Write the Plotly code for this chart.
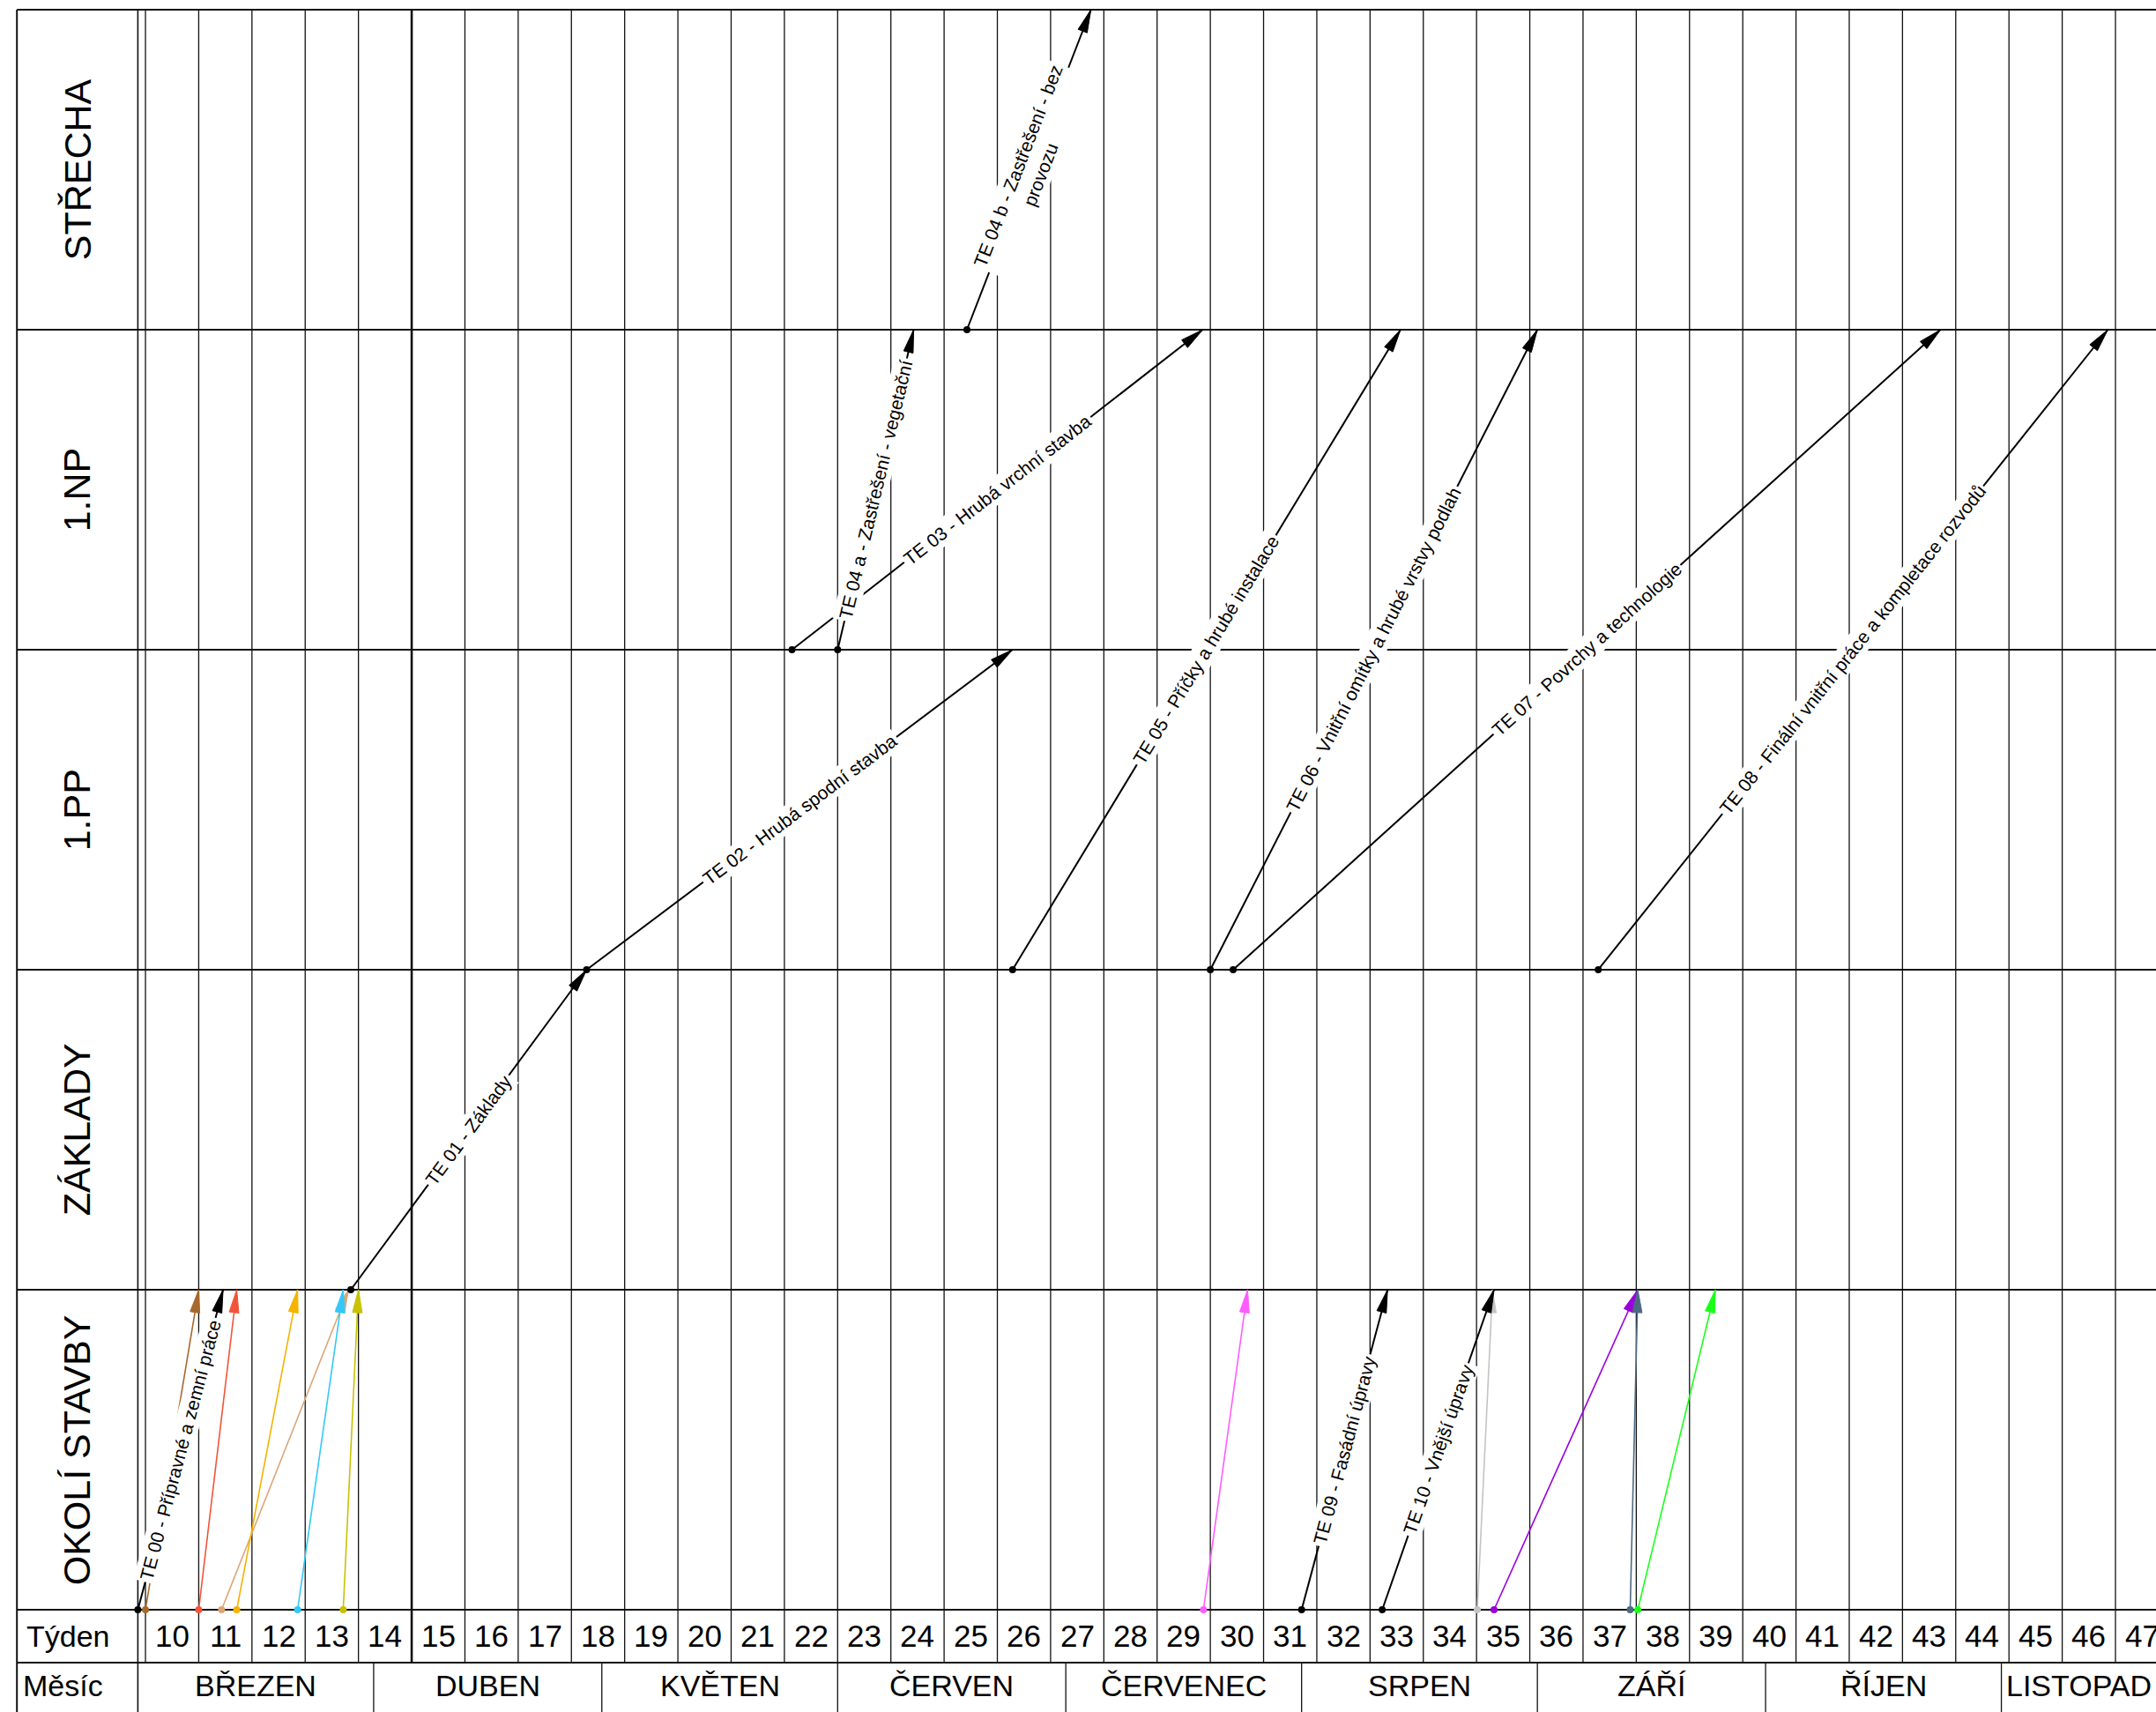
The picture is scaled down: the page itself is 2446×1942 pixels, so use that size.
import math
import plotly.graph_objects as go

# ---------------- data ----------------
row_names = ["OKOLÍ STAVBY", "ZÁKLADY", "1.PP", "1.NP", "STŘECHA"]
week_numbers = list(range(10, 48))
week10_monday_day = 1          # day index, 0 = 1. 3. 2026
month_names = ["BŘEZEN", "DUBEN", "KVĚTEN", "ČERVEN", "ČERVENEC", "SRPEN", "ZÁŘÍ", "ŘÍJEN", "LISTOPAD"]
month_first_day = [0, 31, 61, 92, 122, 153, 184, 214, 245]
month_next_day = [31, 61, 92, 122, 153, 184, 214, 245, 275]

te_names = [
    "TE 00 - Přípravné a zemní práce",
    "TE 01 - Základy",
    "TE 02 - Hrubá spodní stavba",
    "TE 03 - Hrubá vrchní stavba",
    "TE 04 a - Zastřešení - vegetační",
    "TE 04 b - Zastřešení - bez<br>provozu",
    "TE 05 - Příčky a hrubé instalace",
    "TE 06 - Vnitřní omítky a hrubé vrstvy podlah",
    "TE 07 - Povrchy a technologie",
    "TE 08 - Finální vnitřní práce a kompletace rozvodů",
    "TE 09 - Fasádní úpravy",
    "TE 10 - Vnější úpravy",
]
te_start_day = [0, 28, 59, 86, 92, 109, 115, 141, 144, 192, 153, 163.6]
te_end_day = [11.2, 59, 115, 140, 102, 125.3, 166, 184, 237, 259, 164.3, 178.3]
te_start_row = [0, 1, 2, 3, 3, 4, 2, 2, 2, 2, 0, 0]
te_end_row = [1, 2, 3, 4, 4, 5, 4, 4, 4, 4, 1, 1]

sub_colors = ["#a5692c", "#f0553a", "#dca677", "#f5b300", "#33c8f8", "#c8c200",
              "#ff5cff", "#c4c4c4", "#9a00dc", "#4d6a82", "#1aff1a"]
sub_start_day = [1, 8, 11, 13, 21, 27, 140.1, 176.1, 178.3, 196.2, 197.2]
sub_end_day = [8, 13, 27.7, 21, 27, 29, 145.9, 178.1, 197.2, 197.2, 207.4]

# ---------------- geometry ----------------
W, H = 2446, 1942
X_MIN, X_MAX = -18.125, 265.33
Y_MIN, Y_MAX = -0.3196, 5.0303
LEFT_EDGE = -15.9
WEEK_ROW_BOTTOM = -0.1653
PX = W / (X_MAX - X_MIN)
PY = H / (Y_MAX - Y_MIN)
FONT = "Liberation Sans, Arial, sans-serif"

fig = go.Figure()


def hline(y, x0, x1, width=2.0, color="#111"):
    fig.add_shape(type="line", x0=x0, x1=x1, y0=y, y1=y, layer="below",
                  line=dict(color=color, width=width))


def vline(x, y0, y1, width=1.3, color="#111"):
    fig.add_shape(type="line", x0=x, x1=x, y0=y0, y1=y1, layer="below",
                  line=dict(color=color, width=width))


# table frame
for r in range(len(row_names) + 1):
    hline(r, LEFT_EDGE, X_MAX)
hline(WEEK_ROW_BOTTOM, LEFT_EDGE, X_MAX)
vline(LEFT_EDGE, Y_MIN, len(row_names), width=2)
vline(0, Y_MIN, len(row_names), width=1.6)
for k, wn in enumerate(week_numbers):
    d = week10_monday_day + 7 * k
    vline(d, WEEK_ROW_BOTTOM, len(row_names), width=2.6 if wn == 15 else 1.3)
for d in month_first_day[1:]:
    vline(d, Y_MIN, WEEK_ROW_BOTTOM, width=1.3)

annotations = []

# row labels
for i, name in enumerate(row_names):
    annotations.append(dict(x=(LEFT_EDGE + 0) / 2, y=i + 0.5, text=name, textangle=-90,
                            showarrow=False, font=dict(size=43, color="black", family=FONT)))
annotations.append(dict(x=LEFT_EDGE + 1.0, y=WEEK_ROW_BOTTOM / 2, text="Týden", xanchor="left",
                        showarrow=False, font=dict(size=34, color="black", family=FONT)))
annotations.append(dict(x=LEFT_EDGE + 0.6, y=(WEEK_ROW_BOTTOM + Y_MIN) / 2 + 0.005, text="Měsíc",
                        xanchor="left", showarrow=False, font=dict(size=34, color="black", family=FONT)))
for k, wn in enumerate(week_numbers):
    annotations.append(dict(x=week10_monday_day + 7 * k + 3.5, y=WEEK_ROW_BOTTOM / 2, text=str(wn),
                            showarrow=False, font=dict(size=35, color="black", family=FONT)))
for name, a, b in zip(month_names, month_first_day, month_next_day):
    annotations.append(dict(x=(a + min(b, X_MAX)) / 2, y=(WEEK_ROW_BOTTOM + Y_MIN) / 2 + 0.005,
                            text=name, showarrow=False,
                            font=dict(size=34, color="black", family=FONT)))


def arrow_head(x0, y0, x1, y1, length=26.0, half=5.5):
    dxp, dyp = (x1 - x0) * PX, (y1 - y0) * PY
    L = math.hypot(dxp, dyp)
    ux, uy = dxp / L, dyp / L
    bx, by = -ux * length, -uy * length
    px_, py_ = -uy * half, ux * half
    pts = [(0, 0), (bx + px_, by + py_), (bx - px_, by - py_), (0, 0)]
    return [x1 + p[0] / PX for p in pts], [y1 + p[1] / PY for p in pts]


def activity(x0, y0, x1, y1, color, width):
    fig.add_trace(go.Scatter(x=[x0, x1], y=[y0, y1], mode="lines",
                             line=dict(color=color, width=width), hoverinfo="skip"))
    ax, ay = arrow_head(x0, y0, x1, y1)
    fig.add_trace(go.Scatter(x=ax, y=ay, mode="lines", fill="toself", fillcolor=color,
                             line=dict(color=color, width=1), hoverinfo="skip"))
    fig.add_trace(go.Scatter(x=[x0], y=[y0], mode="markers",
                             marker=dict(color=color, size=8), hoverinfo="skip"))


for c, s, e in zip(sub_colors, sub_start_day, sub_end_day):
    activity(s, 0, e, 1, c, 1.6)

for name, s, e, r0, r1 in zip(te_names, te_start_day, te_end_day, te_start_row, te_end_row):
    activity(s, r0, e, r1, "black", 2)
    ang = math.degrees(math.atan2((r1 - r0) * PY, (e - s) * PX))
    annotations.append(dict(x=(s + e) / 2, y=(r0 + r1) / 2, text=name, textangle=-ang,
                            showarrow=False, bgcolor="white", borderpad=2,
                            font=dict(size=21, color="black", family=FONT)))

fig.update_layout(
    width=W, height=H, margin=dict(l=0, r=0, t=0, b=0),
    paper_bgcolor="white", plot_bgcolor="white", showlegend=False,
    xaxis=dict(range=[X_MIN, X_MAX], visible=False, fixedrange=True),
    yaxis=dict(range=[Y_MIN, Y_MAX], visible=False, fixedrange=True),
    annotations=annotations, font=dict(family=FONT),
)

fig.write_html("out.html", config={"displayModeBar": False},
               post_script="document.body.style.margin='0';document.body.style.overflow='hidden';")
